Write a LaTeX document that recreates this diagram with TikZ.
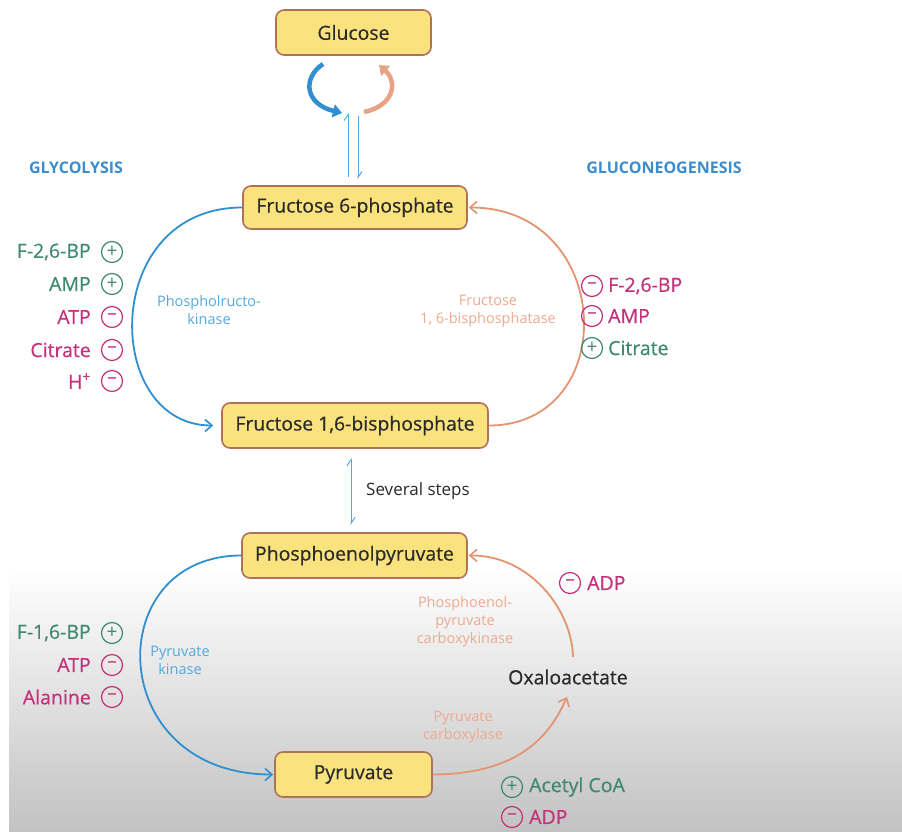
\documentclass[tikz,border=0pt]{standalone}
\usepackage{fontspec}
\setmainfont{Open Sans}
\newfontfamily\medfont[FakeBold=0.5]{Open Sans}
\usetikzlibrary{arrows.meta,calc}
\definecolor{boxfill}{HTML}{FAE37E}
\definecolor{boxborder}{HTML}{B0705A}
\definecolor{txtdark}{HTML}{2A2A2A}
\definecolor{glyblue}{HTML}{2F8FD0}
\definecolor{lblue}{HTML}{55A8DE}
\definecolor{headblue}{HTML}{3A8ED0}
\definecolor{gluor}{HTML}{E39470}
\definecolor{peach}{HTML}{EDAA90}
\definecolor{regreen}{HTML}{3F8A6E}
\definecolor{regmag}{HTML}{C4307A}
\definecolor{bggray}{HTML}{C2C2C2}
\tikzset{
  mbox/.style={draw=boxborder, line width=1.6pt, fill=boxfill, rounded corners=8pt,
    inner sep=0pt, text=txtdark, font=\medfont\fontsize{19.4}{21}\selectfont},
  heading/.style={text=headblue, font=\bfseries\fontsize{16}{18}\selectfont, inner sep=0pt},
  enzb/.style={text=lblue, font=\fontsize{14.5}{18}\selectfont, align=center, inner sep=0pt},
  enzo/.style={text=peach, font=\fontsize{14.5}{18}\selectfont, align=center, inner sep=0pt},
  regtxt/.style={font=\medfont\fontsize{19.5}{21}\selectfont, inner sep=0pt},
  sign/.style={circle, draw, line width=1.2pt, minimum size=21pt, inner sep=0pt,
    font=\fontsize{19}{19}\selectfont},
  gsign/.style={sign, draw=regreen, text=regreen},
  msign/.style={sign, draw=regmag, text=regmag},
  gtxt/.style={regtxt, text=regreen},
  mtxt/.style={regtxt, text=regmag},
  bluearc/.style={draw=glyblue, line width=1.8pt, -{Straight Barb[length=7pt,width=12pt,line width=1.6pt]}},
  orarc/.style={draw=gluor, line width=1.8pt, -{Straight Barb[length=7pt,width=12pt,line width=1.6pt]}},
  harp/.style={draw=lblue, line width=1pt},
}
\begin{document}
\begin{tikzpicture}[x=1pt,y=-1pt]
\useasboundingbox (0,0) rectangle (902,832);
\fill[white] (0,0) rectangle (902,832);
\shade[top color=white, bottom color=bggray] (9,568) rectangle (902,832);

% boxes
\node[mbox, minimum width=155pt, minimum height=45pt] (glc) at (353.5,32.5) {Glucose};
\node[mbox, minimum width=224pt, minimum height=43pt] (f6p) at (355,207.5) {Fructose 6-phosphate};
\node[mbox, minimum width=266pt, minimum height=45pt] (f16) at (355,425.5) {Fructose 1,6-bisphosphate};
\node[mbox, minimum width=225pt, minimum height=45pt] (pep) at (354.5,555.5) {Phosphoenolpyruvate};
\node[mbox, minimum width=157pt, minimum height=45pt] (pyr) at (353.5,774.5) {Pyruvate};
\node[regtxt, text=txtdark] (oaa) at (568,677) {Oxaloacetate};

% headings
\node[heading] (hgly) at (76,168) {GLYCOLYSIS};
\node[heading] (hglu) at (664,168) {GLUCONEOGENESIS};

% glucose cycle arrows
\coordinate (gb1) at (323,64);
\coordinate (gb2) at (342,113);
\coordinate (go1) at (364,112);
\coordinate (go2) at (379,65);
\draw[draw=glyblue, line width=4.5pt, -{Triangle[length=9pt,width=13pt]}]
  (gb1) .. controls (302,78) and (305,104) .. (gb2);
\draw[draw=gluor!85, line width=4.5pt, -{Triangle[length=9pt,width=13pt]}]
  (go1) .. controls (394,106) and (398,82) .. (go2);

% equilibrium harpoons glucose <-> F6P
\coordinate (hl1) at (348,177);
\coordinate (hl2) at (348,113);
\coordinate (hr1) at (358,116);
\coordinate (hr2) at (358,179);
\draw[harp, -{Straight Barb[harpoon,length=6pt,width=8pt]}] (hl1) -- (hl2);
\draw[harp, -{Straight Barb[harpoon,length=6pt,width=8pt]}] (hr1) -- (hr2);

% several steps
\coordinate (s1) at (351,525);
\coordinate (s2) at (351,458);
\draw[harp, {Straight Barb[harpoon,length=6pt,width=8pt]}-{Straight Barb[harpoon,length=6pt,width=8pt]}] (s1) -- (s2);
\node[text=txtdark, font=\fontsize{17}{19}\selectfont, anchor=west, inner sep=0pt] (sev) at (366,491) {Several steps};

% upper cycle
\draw[bluearc, shorten >=8pt] (f6p.west) .. controls (100,207.5) and (102,425.5) .. (f16.west);
\draw[orarc, shorten >=1pt] (f16.east) .. controls (622,425.5) and (615,207.5) .. (f6p.east);

% lower cycle
\draw[bluearc, shorten >=1pt] (pep.west) .. controls (100,555.5) and (104,774.5) .. (pyr.west);
\coordinate (oaab) at (567,697);
\coordinate (oaat) at (573,657);
\draw[orarc] (pyr.east) .. controls (520,774) and (550,735) .. (oaab);
\draw[orarc, shorten >=1pt] (oaat) .. controls (572,610) and (530,555) .. (pep.east);

% enzyme labels
\node[enzb] (pfk) at (209,310) {Phospholructo-\\kinase};
\node[enzo] (fbp) at (488,311) {Fructose\\1, 6-bisphosphatase};
\node[enzb] (pk) at (180,660) {Pyruvate\\kinase};
\node[enzo] (pepck) at (465,622) {Phosphoenol-\\pyruvate\\carboxykinase};
\node[enzo] (pc) at (463,727) {Pyruvate\\carboxylase};

% left regulators upper
\node[gsign] (lu1) at (112,252) {+};
\node[gtxt, anchor=east] (lut1) at (91,252) {F-2,6-BP};
\node[gsign] (lu2) at (112,284) {+};
\node[gtxt, anchor=east] (lut2) at (91,284) {AMP};
\node[msign] (lu3) at (112,317) {\textendash};
\node[mtxt, anchor=east] (lut3) at (91,317) {ATP};
\node[msign] (lu4) at (112,350) {\textendash};
\node[mtxt, anchor=east] (lut4) at (91,350) {Citrate};
\node[msign] (lu5) at (112,381) {\textendash};
\node[mtxt, anchor=east] (lut5) at (91,381) {H\textsuperscript{+}};

% right regulators upper
\node[msign] (ru1) at (592,286) {\textendash};
\node[mtxt, anchor=west] (rut1) at (608,286) {F-2,6-BP};
\node[msign] (ru2) at (592,316) {\textendash};
\node[mtxt, anchor=west] (rut2) at (608,316) {AMP};
\node[gsign] (ru3) at (592,348) {+};
\node[gtxt, anchor=west] (rut3) at (608,348) {Citrate};

% left regulators lower
\node[gsign] (ll1) at (112,633) {+};
\node[gtxt, anchor=east] (llt1) at (91,633) {F-1,6-BP};
\node[msign] (ll2) at (112,665) {\textendash};
\node[mtxt, anchor=east] (llt2) at (91,665) {ATP};
\node[msign] (ll3) at (112,697) {\textendash};
\node[mtxt, anchor=east] (llt3) at (91,697) {Alanine};

% right regulators lower
\node[msign] (rl1) at (570,583) {\textendash};
\node[mtxt, anchor=west] (rlt1) at (587,583) {ADP};
\node[gsign] (rl2) at (512,787) {+};
\node[gtxt, anchor=west] (rlt2) at (529,787) {Acetyl CoA};
\node[msign] (rl3) at (512,817) {\textendash};
\node[mtxt, anchor=west] (rlt3) at (529,817) {ADP};
\end{tikzpicture}
\end{document}
